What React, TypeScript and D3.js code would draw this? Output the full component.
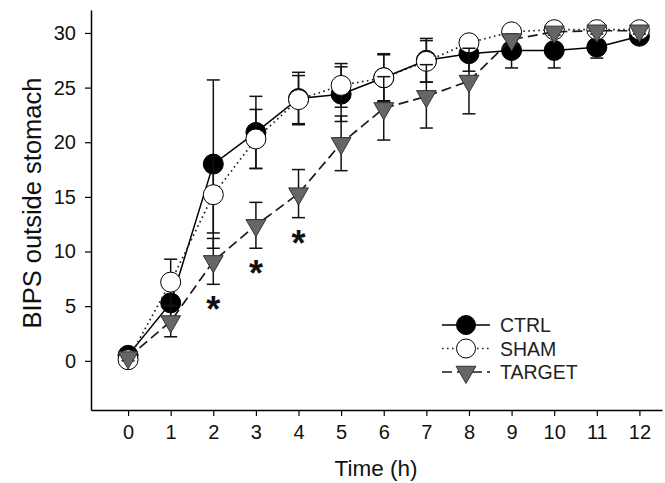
import React, { useEffect, useRef } from 'react';
import * as d3 from 'd3';

// gastric emptying of BIPS markers, three groups

const times = [0, 1, 2, 3, 4, 5, 6, 7, 8, 9, 10, 11, 12];
const ctrl = [0.5, 5.3, 18.0, 20.9, 24.0, 24.4, 25.9, 27.5, 28.1, 28.4, 28.4, 28.7, 29.7];
const ctrlErr = [0.3, 1.3, 7.7, 3.3, 2.4, 2.5, 2.2, 2.0, 1.6, 1.6, 1.6, 1.0, 0.5];
const sham = [0.1, 7.2, 15.2, 20.3, 23.9, 25.2, 25.9, 27.4, 29.1, 30.1, 30.3, 30.3, 30.3];
const shamErr = [0.3, 2.1, 3.5, 2.7, 2.2, 2.0, 2.1, 1.9, 0.5, 0.3, 0.2, 0.2, 0.2];
const target = [0.3, 3.6, 9.1, 12.4, 15.3, 19.9, 23.1, 24.2, 25.6, 29.4, 30.1, 30.2, 30.2];
const targetErr = [0.3, 1.4, 2.1, 2.1, 2.2, 2.5, 2.9, 2.9, 3.0, 0.5, 0.3, 0.3, 0.3];
const sigTimes = [2, 3, 4];
const yTicks = [0, 5, 10, 15, 20, 25, 30];
const labels = ['CTRL', 'SHAM', 'TARGET'];

const FONT = '"Liberation Sans", Arial, sans-serif';

const App = () => {
  const svgRef = useRef<SVGSVGElement>(null);

  useEffect(() => {
    const width = 665;
    const height = 483;
    const svg = d3.select(svgRef.current);
    svg.selectAll('*').remove();

    const x = d3.scaleLinear().domain([-0.87, 12.53]).range([91, 662]);
    const y = d3.scaleLinear().domain([-4.5, 32.1]).range([410, 10]);

    const series = [
      { name: labels[0], vals: ctrl, err: ctrlErr, dash: null, lineColor: '#000', shape: 'filled' },
      { name: labels[1], vals: sham, err: shamErr, dash: '1.6,3.4', lineColor: '#222', shape: 'open' },
      { name: labels[2], vals: target, err: targetErr, dash: '10,5', lineColor: '#1a1a1a', shape: 'tri' },
    ];

    const triPath = d3.symbol().type(d3.symbolTriangle).size(170)();

    const drawMarker = (g, shape, cx, cy, r = 10) => {
      if (shape === 'tri') {
        g.append('path')
          .attr('d', triPath)
          .attr('transform', `translate(${cx},${cy}) rotate(180)`)
          .attr('fill', '#666')
          .attr('stroke', '#333')
          .attr('stroke-width', 1);
      } else {
        g.append('circle')
          .attr('cx', cx)
          .attr('cy', cy)
          .attr('r', r)
          .attr('fill', shape === 'filled' ? '#000' : '#fff')
          .attr('stroke', '#000')
          .attr('stroke-width', 1);
      }
    };

    // axes
    const xAxis = svg.append('g')
      .attr('transform', `translate(0, ${y.range()[0]})`)
      .call(d3.axisBottom(x).tickValues(times).tickSize(6).tickSizeOuter(0).tickPadding(9));
    const yAxis = svg.append('g')
      .attr('transform', `translate(${x.range()[0]}, 0)`)
      .call(d3.axisLeft(y).tickValues(yTicks).tickSize(6).tickSizeOuter(0).tickPadding(9));
    [xAxis, yAxis].forEach(a => {
      a.select('.domain').attr('stroke', '#000').attr('stroke-width', 1.5);
      a.selectAll('.tick line').attr('stroke', '#000').attr('stroke-width', 1.2);
      a.selectAll('.tick text')
        .attr('font-family', FONT)
        .attr('font-size', 20)
        .attr('fill', '#111');
    });

    // series
    series.forEach(s => {
      const g = svg.append('g');
      const line = d3.line<number>()
        .x((_, i) => x(times[i]))
        .y(d => y(d));
      g.append('path')
        .attr('d', line(s.vals))
        .attr('fill', 'none')
        .attr('stroke', s.lineColor)
        .attr('stroke-width', s.dash ? 1.7 : 1.5)
        .attr('stroke-dasharray', s.dash);

      s.vals.forEach((v, i) => {
        const cx = x(times[i]);
        const lo = y(v - s.err[i]);
        const hi = y(v + s.err[i]);
        g.append('line').attr('x1', cx).attr('x2', cx).attr('y1', lo).attr('y2', hi)
          .attr('stroke', '#111').attr('stroke-width', 1.5);
        [lo, hi].forEach(yy => {
          g.append('line').attr('x1', cx - 6.5).attr('x2', cx + 6.5).attr('y1', yy).attr('y2', yy)
            .attr('stroke', '#111').attr('stroke-width', 1.5);
        });
      });
      s.vals.forEach((v, i) => drawMarker(g, s.shape, x(times[i]), y(v)));
    });

    // significance marks
    sigTimes.forEach(t => {
      const i = times.indexOf(t);
      svg.append('text')
        .attr('x', x(t))
        .attr('y', y(target[i] - targetErr[i]) + 38)
        .attr('text-anchor', 'middle')
        .attr('font-family', FONT)
        .attr('font-size', 36)
        .attr('font-weight', 'bold')
        .attr('fill', '#111')
        .text('*');
    });

    // legend
    const legend = svg.append('g').attr('transform', 'translate(442, 325)');
    series.forEach((s, i) => {
      const ly = i * 23.5;
      legend.append('line')
        .attr('x1', 0).attr('x2', 48).attr('y1', ly).attr('y2', ly)
        .attr('stroke', s.lineColor)
        .attr('stroke-width', s.dash ? 1.7 : 1.5)
        .attr('stroke-dasharray', s.dash);
      drawMarker(legend, s.shape, 24, ly, 9.5);
      legend.append('text')
        .attr('x', 58)
        .attr('y', ly + 7)
        .attr('font-family', FONT)
        .attr('font-size', 19.5)
        .attr('fill', '#222')
        .text(s.name);
    });

    // axis titles
    svg.append('text')
      .attr('x', 376)
      .attr('y', 476)
      .attr('text-anchor', 'middle')
      .attr('font-family', FONT)
      .attr('font-size', 22.5)
      .attr('fill', '#111')
      .text('Time (h)');
    svg.append('text')
      .attr('transform', 'translate(41, 203) rotate(-90)')
      .attr('text-anchor', 'middle')
      .attr('font-family', FONT)
      .attr('font-size', 25.5)
      .attr('fill', '#111')
      .text('BIPS outside stomach');

    svg.attr('width', width).attr('height', height);
  }, []);

  return (
    <svg
      ref={svgRef}
      width="665"
      height="483"
      style={{ position: 'absolute', left: 0, top: 0, background: '#fff' }}
    />
  );
};

export default App;
